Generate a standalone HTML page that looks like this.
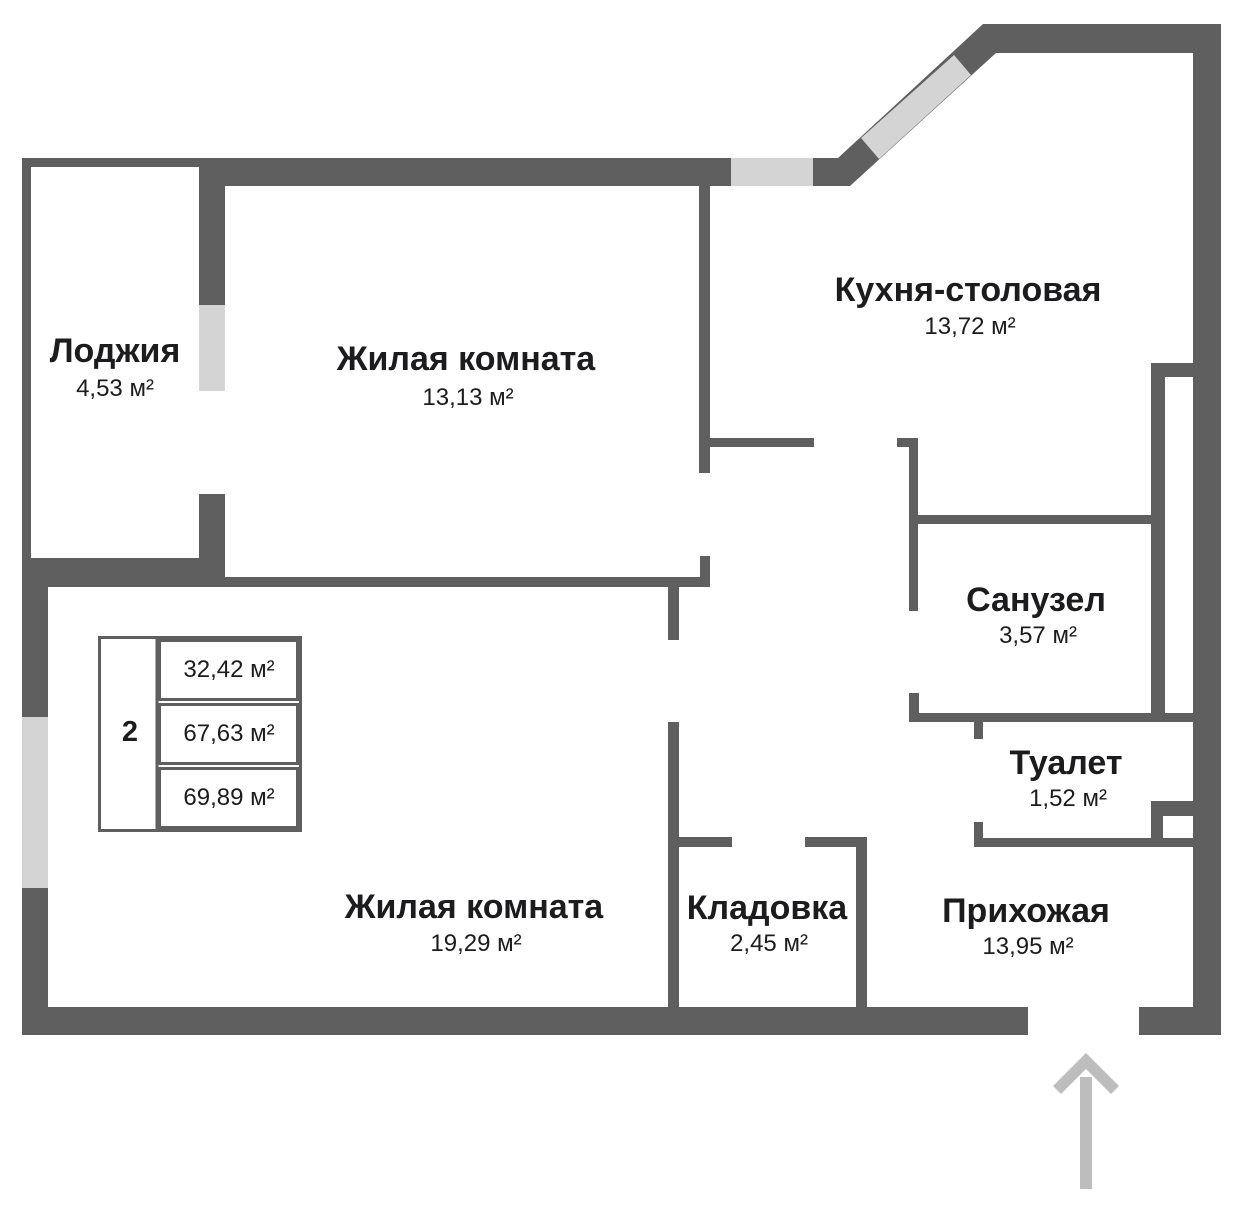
<!DOCTYPE html>
<html><head><meta charset="utf-8"><style>
html,body{margin:0;padding:0;background:#fff;}
svg{display:block}
text{font-family:"Liberation Sans","DejaVu Sans",sans-serif;fill:#1c1c1e;text-anchor:middle}
.b{font-weight:bold;font-size:34px}
.a{font-size:24px}
</style></head><body>
<svg width="1248" height="1208" viewBox="0 0 1248 1208" xmlns="http://www.w3.org/2000/svg">
<g fill="#5f5f5f">
<rect x="22" y="158" width="178" height="9"/>
<rect x="22" y="158" width="9" height="430"/>
<rect x="22" y="558" width="203" height="29"/>
<rect x="22" y="558" width="26" height="477"/>
<rect x="199" y="158" width="26" height="147"/>
<rect x="199" y="494" width="26" height="90"/>
<rect x="199" y="158" width="532" height="28"/>
<polygon points="813,158 838,158 983,24 1221,24 1221,1035 1193,1035 1193,53 996,53 850,186 813,186"/>
<rect x="225" y="577" width="485" height="10"/>
<rect x="700" y="556" width="10" height="31"/>
<rect x="668" y="587" width="11" height="53"/>
<rect x="699" y="186" width="11" height="287"/>
<rect x="699" y="438" width="115" height="9"/>
<rect x="897" y="438" width="20" height="9"/>
<rect x="909" y="438" width="9" height="173"/>
<rect x="909" y="515" width="243" height="9"/>
<rect x="909" y="693" width="10" height="29"/>
<rect x="909" y="713" width="286" height="9"/>
<rect x="1151" y="363" width="43" height="14"/>
<rect x="1151" y="363" width="14" height="359"/>
<rect x="974" y="722" width="9" height="17"/>
<rect x="974" y="822" width="9" height="25"/>
<rect x="974" y="838" width="220" height="9"/>
<rect x="1151" y="801" width="43" height="15"/>
<rect x="1151" y="801" width="12" height="46"/>
<rect x="668" y="722" width="11" height="290"/>
<rect x="668" y="837" width="64" height="10"/>
<rect x="805" y="837" width="62" height="10"/>
<rect x="856" y="837" width="11" height="175"/>
<rect x="22" y="1007" width="1006" height="28"/>
<rect x="1139" y="1007" width="82" height="28"/>
</g>
<g fill="#d4d4d4">
<rect x="199" y="305" width="26" height="86"/>
<rect x="731" y="158" width="82" height="28"/>
<polygon points="861,138 954,55 971,75 879,159"/>
<rect x="22" y="717" width="26" height="171"/>
</g>
<g fill="none" stroke="#5f5f5f" stroke-width="3">
<rect x="99.5" y="637.5" width="201" height="193"/>
<rect x="159.5" y="640.5" width="138" height="59"/>
<rect x="159.5" y="704.5" width="138" height="59"/>
<rect x="159.5" y="768.5" width="138" height="59"/>
<line x1="157" y1="637" x2="157" y2="831"/>
</g>
<text x="130" y="741" style="font-size:29px;font-weight:bold">2</text>
<text x="229" y="677" class="a">32,42 м²</text>
<text x="229" y="741" class="a">67,63 м²</text>
<text x="229" y="805" class="a">69,89 м²</text>
<g fill="#bdbdbd">
<rect x="1080" y="1077" width="12" height="112"/>
<polygon points="1086,1053 1119,1086 1111,1094 1086,1069 1061,1094 1053,1086"/>
</g>
<text x="115" y="362" class="b">Лоджия</text>
<text x="115" y="396" class="a">4,53 м²</text>
<text x="466" y="370" class="b">Жилая комната</text>
<text x="468" y="405" class="a">13,13 м²</text>
<text x="968" y="301" class="b">Кухня-столовая</text>
<text x="970" y="334" class="a">13,72 м²</text>
<text x="1036" y="611" class="b">Санузел</text>
<text x="1038" y="643" class="a">3,57 м²</text>
<text x="1066" y="774" class="b">Туалет</text>
<text x="1068" y="806" class="a">1,52 м²</text>
<text x="767" y="919" class="b">Кладовка</text>
<text x="769" y="951" class="a">2,45 м²</text>
<text x="1026" y="922" class="b">Прихожая</text>
<text x="1028" y="954" class="a">13,95 м²</text>
<text x="474" y="918" class="b">Жилая комната</text>
<text x="476" y="951" class="a">19,29 м²</text>
</svg>
</body></html>
